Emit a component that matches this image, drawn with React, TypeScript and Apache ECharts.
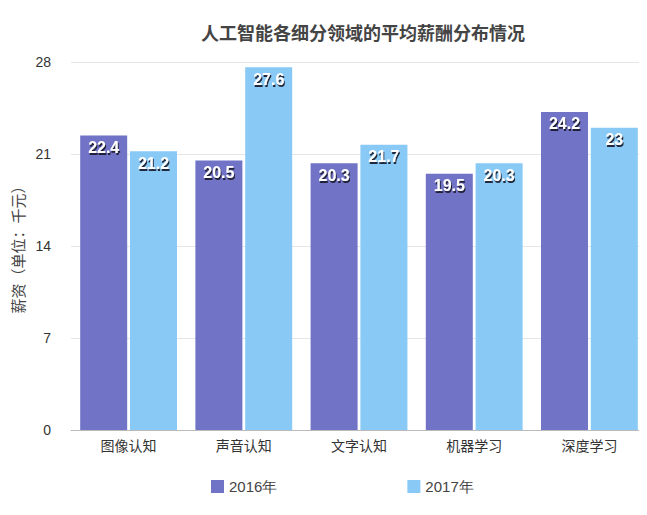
import React, { useEffect, useRef } from "react";
import * as echarts from "echarts";

const categories = ["图像认知", "声音认知", "文字认知", "机器学习", "深度学习"];
const series2016 = [22.4, 20.5, 20.3, 19.5, 24.2];
const series2017 = [21.2, 27.6, 21.7, 20.3, 23];
const yTicks = [0, 7, 14, 21, 28];

export default function App() {
  const ref = useRef<HTMLDivElement>(null);
  useEffect(() => {
    if (!ref.current) return;
    const chart = echarts.init(ref.current, undefined, { renderer: "svg" });
    const font = "'Noto Sans CJK SC', 'Noto Sans', sans-serif";
    const latin = "Helvetica, Arial, 'Liberation Sans', sans-serif";
    const label = {
      show: true,
      position: "insideTop" as const,
      distance: 4,
      color: "#fff",
      fontSize: 16,
      fontWeight: "bold" as const,
      fontFamily: latin,
      textShadowColor: "rgba(20,20,40,0.9)",
      textShadowBlur: 1,
      textShadowOffsetX: 1,
      textShadowOffsetY: 2,
    };
    chart.setOption({
      animation: false,
      backgroundColor: "#fff",
      textStyle: { fontFamily: font },
      title: {
        text: "人工智能各细分领域的平均薪酬分布情况",
        left: 358,
        textAlign: "center",
        top: 18,
        textStyle: { fontSize: 18, fontWeight: "bold", color: "#444", fontFamily: font },
      },
      legend: {
        bottom: 16,
        left: 206,
        itemWidth: 13,
        itemHeight: 13,
        itemGap: 130,
        icon: "rect",
        textStyle: { fontSize: 15, color: "#444", fontFamily: latin },
        data: ["2016年", "2017年"],
      },
      grid: { left: 71, right: 0, top: 62, bottom: 85 },
      xAxis: {
        type: "category",
        data: categories,
        axisTick: { show: false },
        axisLine: { lineStyle: { color: "#bbb" } },
        axisLabel: { color: "#333", fontSize: 14, margin: 8 },
      },
      yAxis: {
        type: "value",
        min: yTicks[0],
        max: yTicks[yTicks.length - 1],
        interval: 7,
        name: "薪资（单位：千元）",
        nameLocation: "middle",
        nameGap: 42,
        nameRotate: 90,
        nameTextStyle: { fontSize: 15, color: "#444" },
        axisLabel: { color: "#333", fontSize: 14, margin: 20, fontFamily: latin },
        axisLine: { show: false },
        axisTick: { show: false },
        splitLine: { lineStyle: { color: "#e6e6e6" } },
      },
      series: [
        {
          name: "2016年",
          type: "bar",
          data: series2016,
          barWidth: 47,
          barGap: "6%",
          itemStyle: { color: "#7173C6" },
          label,
        },
        {
          name: "2017年",
          type: "bar",
          data: series2017,
          barWidth: 47,
          itemStyle: { color: "#88C9F5" },
          label,
        },
      ],
    });
    return () => chart.dispose();
  }, []);
  return <div ref={ref} style={{ width: 647, height: 515, margin: -8 }} />;
}
